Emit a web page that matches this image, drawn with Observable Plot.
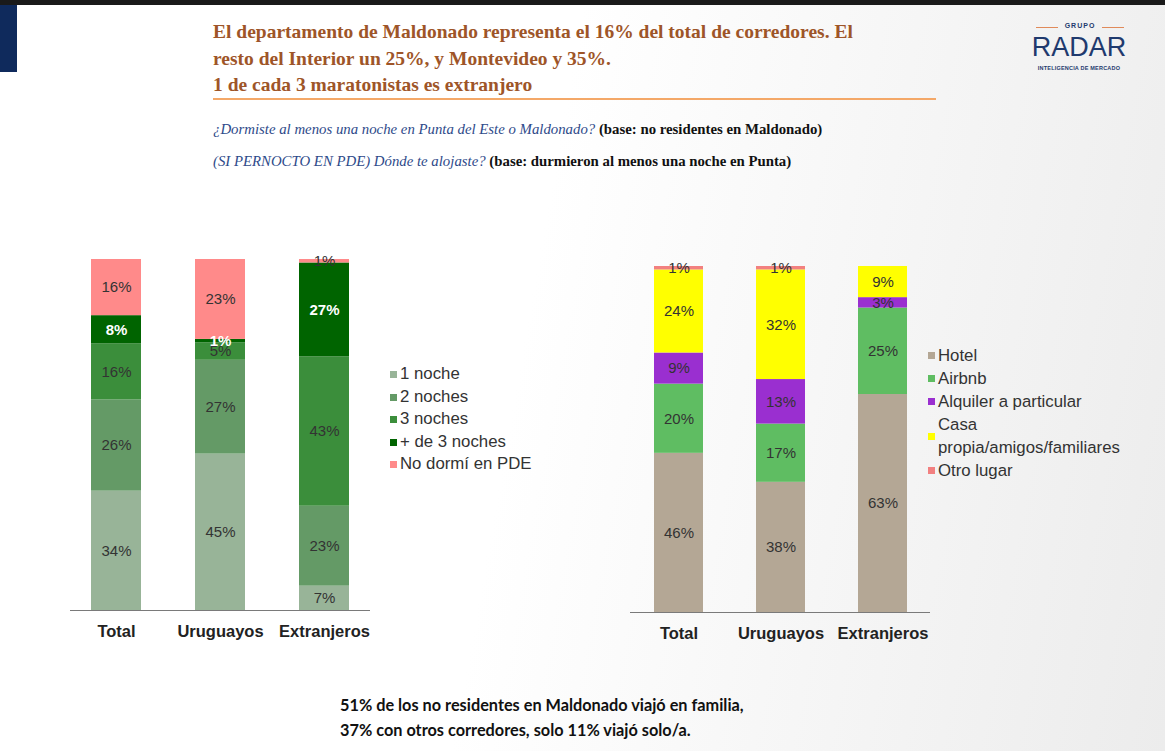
<!DOCTYPE html>
<html>
<head>
<meta charset="utf-8">
<script src="https://cdn.jsdelivr.net/npm/d3@7"></script>
<script src="https://cdn.jsdelivr.net/npm/@observablehq/plot@0.6"></script>
<style>
  html, body { margin:0; padding:0; }
  #slide { position:relative; width:1165px; height:751px; overflow:hidden;
    background: linear-gradient(100deg, #ffffff 0%, #ffffff 45%, #ececec 100%); font-family: "Liberation Sans", Arial, sans-serif; }
  .abs { position:absolute; }
  .title { left:213px; top:19px; font-family:"Liberation Serif","Times New Roman",serif; font-weight:bold; font-size:19.5px; line-height:26.5px; color:#9e5528; white-space:nowrap; }
  .sub { left:213px; font-family:"Liberation Serif","Times New Roman",serif; font-size:14.8px; white-space:nowrap; letter-spacing:0px; }
  .sub i { color:#2e4a8a; }
  .sub b { color:#111; }
  .leg { font-size:16.8px; color:#333; }
  .leg .row { position:relative; padding-left:10px; white-space:nowrap; }
  .leg .sw { position:absolute; left:0; width:7px; height:7px; }
  .foot { left:340px; top:692px; font-family:Lato, "Open Sans", sans-serif; font-weight:bold; font-size:16.3px; line-height:25px; color:#111; white-space:nowrap; }
</style>
</head>
<body>
<div id="slide">
  <div class="abs" style="left:0;top:0;width:1165px;height:5px;background:#1a1a1a"></div>
  <div class="abs" style="left:0;top:5px;width:17px;height:67px;background:#0f2a5c"></div>
  <div class="abs title">El departamento de Maldonado representa el 16% del total de corredores. El<br>resto del Interior un 25%, y Montevideo y 35%.<br>1 de cada 3 maratonistas es extranjero</div>
  <div class="abs" style="left:213px;top:98px;width:723px;height:2px;background:#f4a868"></div>
  <!-- logo -->
  <div class="abs" style="left:1036px;top:27px;width:22px;height:1px;background:#e08a5a"></div>
  <div class="abs" style="left:1102px;top:27px;width:22px;height:1px;background:#e08a5a"></div>
  <div class="abs" style="left:1060px;top:22px;width:40px;text-align:center;font-size:7px;letter-spacing:1px;color:#1f3a6e;font-weight:bold">GRUPO</div>
  <div class="abs" style="left:1029px;top:32px;width:100px;text-align:center;font-size:27px;line-height:30px;color:#1f3a6e">RADAR</div>
  <div class="abs" style="left:1029px;top:65px;width:100px;text-align:center;font-size:5.5px;color:#1f3a6e;font-weight:bold;letter-spacing:0.2px">INTELIGENCIA DE MERCADO</div>
  <div class="abs sub" style="top:121px"><i>¿Dormiste al menos una noche en Punta del Este o Maldonado?</i> <b>(base: no residentes en Maldonado)</b></div>
  <div class="abs sub" style="top:153px"><i>(SI PERNOCTO EN PDE) Dónde te alojaste?</i> <b>(base: durmieron al menos una noche en Punta)</b></div>
  <div class="abs" id="left" style="left:70px;top:250px"></div>
  <div class="abs" id="right" style="left:630px;top:256px"></div>
  <div class="abs leg" id="legL" style="left:390px;top:363px;line-height:22.5px"></div>
  <div class="abs leg" id="legR" style="left:928px;top:344px;line-height:23px"></div>
  <div class="abs foot">51% de los no residentes en Maldonado viajó en familia,<br>37% con otros corredores, solo 11% viajó solo/a.</div>
</div>
<script>
// ---- data ----
const categories = ["Total", "Uruguayos", "Extranjeros"];

const nightsSeries = ["1 noche", "2 noches", "3 noches", "+ de 3 noches", "No dormí en PDE"];
const nightsColors = ["#98b498", "#649a66", "#3b8e3b", "#006400", "#ff8a8a"];
const noche1 = [34, 45, 7];
const noches2 = [26, 27, 23];
const noches3 = [16, 5, 43];
const mas3 = [8, 1, 27];
const noDormi = [16, 23, 1];

const lodgingSeries = ["Hotel", "Airbnb", "Alquiler a particular", "Casa propia/amigos/familiares", "Otro lugar"];
const lodgingColors = ["#b4a795", "#5fbd62", "#9a2fd0", "#ffff00", "#f28080"];
const hotel = [46, 38, 63];
const airbnb = [20, 17, 25];
const alquiler = [9, 13, 3];
const casa = [24, 32, 9];
const otro = [1, 1, 0];

// ---- tables ----
function table(series, valueArrays) {
  return categories.flatMap((c, i) => series.map((s, j) => ({cat: c, serie: s, value: valueArrays[j][i]})));
}
const leftData = table(nightsSeries, [noche1, noches2, noches3, mas3, noDormi]);
const rightData = table(lodgingSeries, [hotel, airbnb, alquiler, casa, otro]);

function chart(data, series, colors, opts) {
  const whiteSerie = opts.whiteSerie;
  return Plot.plot({
    width: 300, height: opts.height, marginTop: opts.marginTop, marginBottom: 40, marginLeft: 0, marginRight: 0,
    style: {fontFamily: "'Liberation Sans', Arial, sans-serif", fontSize: "16.5px", fontWeight: "bold", color: "#222", background: "transparent", overflow: "visible"},
    x: {domain: categories, paddingInner: 0.52, paddingOuter: opts.po, label: null, tickSize: 0, tickPadding: 15},
    y: {axis: null, domain: [0, 1]},
    color: {domain: series, range: colors},
    marks: [
      Plot.barY(data, Plot.stackY({x: "cat", y: "value", fill: "serie", offset: "normalize"})),
      Plot.text(data, Plot.stackY({x: "cat", y: "value", z: "serie", offset: "normalize",
        text: d => (d.value > 0 && d.serie !== whiteSerie) ? d.value + "%" : "",
        fill: "#333", fontSize: 15, fontWeight: "normal"})),
      Plot.text(data, Plot.stackY({x: "cat", y: "value", z: "serie", offset: "normalize",
        text: d => (d.value > 0 && d.serie === whiteSerie) ? d.value + "%" : "",
        fill: "white", fontWeight: "bold", fontSize: 15})),
      Plot.ruleY([0], {stroke: "#7a7a7a", strokeWidth: 1.2})
    ]
  });
}

document.getElementById("left").append(chart(leftData, nightsSeries, nightsColors, {height: 400, marginTop: 9, po: 0.2, whiteSerie: "+ de 3 noches"}));
document.getElementById("right").append(chart(rightData, lodgingSeries, lodgingColors, {height: 396, marginTop: 10, po: 0.23, whiteSerie: null}));

function legend(id, series, colors, twoLine) {
  const el = document.getElementById(id);
  series.forEach((s, i) => {
    const row = document.createElement("div");
    row.className = "row";
    const sw = document.createElement("span");
    sw.className = "sw";
    sw.style.background = colors[i];
    sw.style.top = (twoLine && twoLine[s]) ? "20px" : "8px";
    row.append(sw);
    if (twoLine && twoLine[s]) {
      const t = document.createElement("span");
      t.innerHTML = twoLine[s];
      row.append(t);
    } else {
      row.append(document.createTextNode(s));
    }
    el.append(row);
  });
}
legend("legL", nightsSeries, nightsColors);
legend("legR", lodgingSeries, lodgingColors, {"Casa propia/amigos/familiares": "Casa<br>propia/amigos/familiares"});
</script>
</body>
</html>
